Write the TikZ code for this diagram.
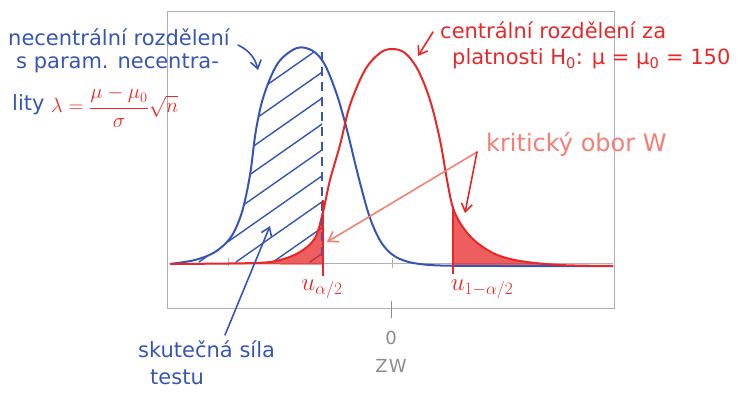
\documentclass[tikz,border=0pt]{standalone}
\usepackage{fontspec}
\setmainfont{DejaVu Sans}
\usetikzlibrary{arrows.meta}
\definecolor{penblue}{RGB}{55,85,180}
\definecolor{penred}{RGB}{232,40,40}
\definecolor{pensalmon}{RGB}{246,125,115}
\definecolor{pengray}{RGB}{140,140,140}
\definecolor{framegray}{RGB}{175,175,175}
\tikzset{
  bluetxt/.style={text=penblue, font=\fontsize{21}{24}\selectfont, inner sep=0pt},
  redtxt/.style={text=penred, font=\fontsize{21}{24}\selectfont, inner sep=0pt},
  redmath/.style={text=penred, font=\fontsize{24}{28}\selectfont, inner sep=0pt},
  salmontxt/.style={text=pensalmon, font=\fontsize{24}{28}\selectfont, inner sep=0pt},
  graytxt/.style={text=pengray, font=\fontsize{18}{20}\selectfont, inner sep=0pt},
  bluecurvestyle/.style={draw=penblue, line width=2pt, line join=round},
  redcurvestyle/.style={draw=penred, line width=2pt, line join=round},
  hatchline/.style={draw=penblue, line width=1.4pt, line cap=round},
  bluearrow/.style={draw=penblue, line width=1.6pt, line cap=round, -{Straight Barb[length=8pt,width=11pt]}},
  redarrow/.style={draw=penred, line width=1.6pt, line cap=round, -{Straight Barb[length=8pt,width=11pt]}},
  salmonarrow/.style={draw=pensalmon, line width=1.6pt, line cap=round, -{Straight Barb[length=9pt,width=12pt]}},
  redfill/.style={fill=penred, fill opacity=0.75},
}
\newcommand\bluecurve{plot[smooth, tension=0.55] coordinates {(170,264) (195,260) (215,252) (231,237) (242,212) (250,175) (256,130) (264,95) (278,63) (297,48) (313,51) (325,65) (337,95) (347,130) (358,175) (370,218) (383,245) (400,259) (430,265) (500,266) (613,266)}}
\newcommand\redcurve{plot[smooth, tension=0.55] coordinates {(170,264) (255,263) (280,260) (300,252) (315,238) (323,212) (330,180) (340,145) (350,105) (365,70) (380,53) (392,49) (405,53) (418,70) (430,100) (440,140) (447,180) (453,208) (462,226) (475,241) (495,254) (520,261) (560,265) (613,266)}}
\begin{document}
\begin{tikzpicture}[x=1pt,y=-1pt]
\useasboundingbox (0,0) rectangle (748,394);
% frame
\draw[framegray, line width=0.8pt] (167,11) rectangle (614,308);
\draw[framegray, line width=0.6pt] (170,263) -- (613,263);
\draw[pengray, line width=0.8pt] (391,301) -- (391,318);
\draw[framegray, line width=0.6pt] (392,258) -- (392,268);
\draw[framegray, line width=0.6pt] (228,258) -- (228,266);
% hatching under blue curve
\begin{scope}
  \clip \bluecurve -- cycle;
  \clip (160,0) rectangle (322,262);
  \foreach \k in {-208,-171,...,360} {
    \draw[hatchline] (\k,262) -- ++(400,-280);
  }
\end{scope}
% red tails
\begin{scope}
  \clip (160,0) rectangle (323,266);
  \fill[redfill] \redcurve -- cycle;
\end{scope}
\begin{scope}
  \clip (453,0) rectangle (620,266);
  \fill[redfill] \redcurve -- cycle;
\end{scope}
% curves
\draw[bluecurvestyle] \bluecurve;
\draw[redcurvestyle] \redcurve;
% dashed line
\draw[penblue, line width=1.5pt, dashed, dash pattern=on 9pt off 6pt] (322,52) -- (322,262);
% cutoff lines
\draw[penred, line width=2pt] (323,200) -- (323,276);
\draw[penred, line width=2pt] (453,206) -- (453,274);
% texts
\node[bluetxt, anchor=west] (t1) at (8,37) {necentrální rozdělení};
\node[bluetxt, anchor=west] (t2) at (16,63) {s param. necentra-};
\node[bluetxt, anchor=west] (t3) at (12,105) {lity};
\node[redtxt, anchor=west] (lam) at ([xshift=6pt,yshift=-2pt]t3.east) {$\displaystyle\lambda = \frac{\mu-\mu_0}{\sigma}\sqrt{n}$};
\node[redtxt, anchor=west] (c1) at (440,30) {centrální rozdělení za};
\node[redtxt, anchor=west] (c2) at (452,59) {platnosti H\textsubscript{0}: μ = μ\textsubscript{0} = 150};
\node[salmontxt, anchor=west] (krit) at (486,144) {kritický obor W};
\node[redmath] (ua) at (322,289) {$u_{\alpha/2}$};
\node[redmath] (ub) at (482,289) {$u_{1-\alpha/2}$};
\node[graytxt] (zero) at (391,338) {0};
\node[graytxt] (zw) at (391,366) {Z\kern1pt W};
\node[bluetxt, anchor=west] (s1) at (138,349) {skutečná síla};
\node[bluetxt, anchor=west] (s2) at (150,377) {testu};
% arrows
\coordinate (b1s) at (238,45);
\coordinate (b1t) at (258,70);
\draw[bluearrow] (b1s) to[bend left=25] (b1t);
\coordinate (r1s) at (433,32);
\coordinate (r1t) at (418,56);
\draw[redarrow] (r1s) -- (r1t);
\coordinate (kv) at (477,152);
\coordinate (kt1) at (327,242);
\coordinate (kt2) at (465,213);
\draw[salmonarrow] (kv) -- (kt1);
\draw[redarrow] (kv) -- (kt2);
\coordinate (bs) at (225,335);
\coordinate (bt) at (270,226);
\draw[bluearrow] (bs) -- (bt);
\end{tikzpicture}
\end{document}
